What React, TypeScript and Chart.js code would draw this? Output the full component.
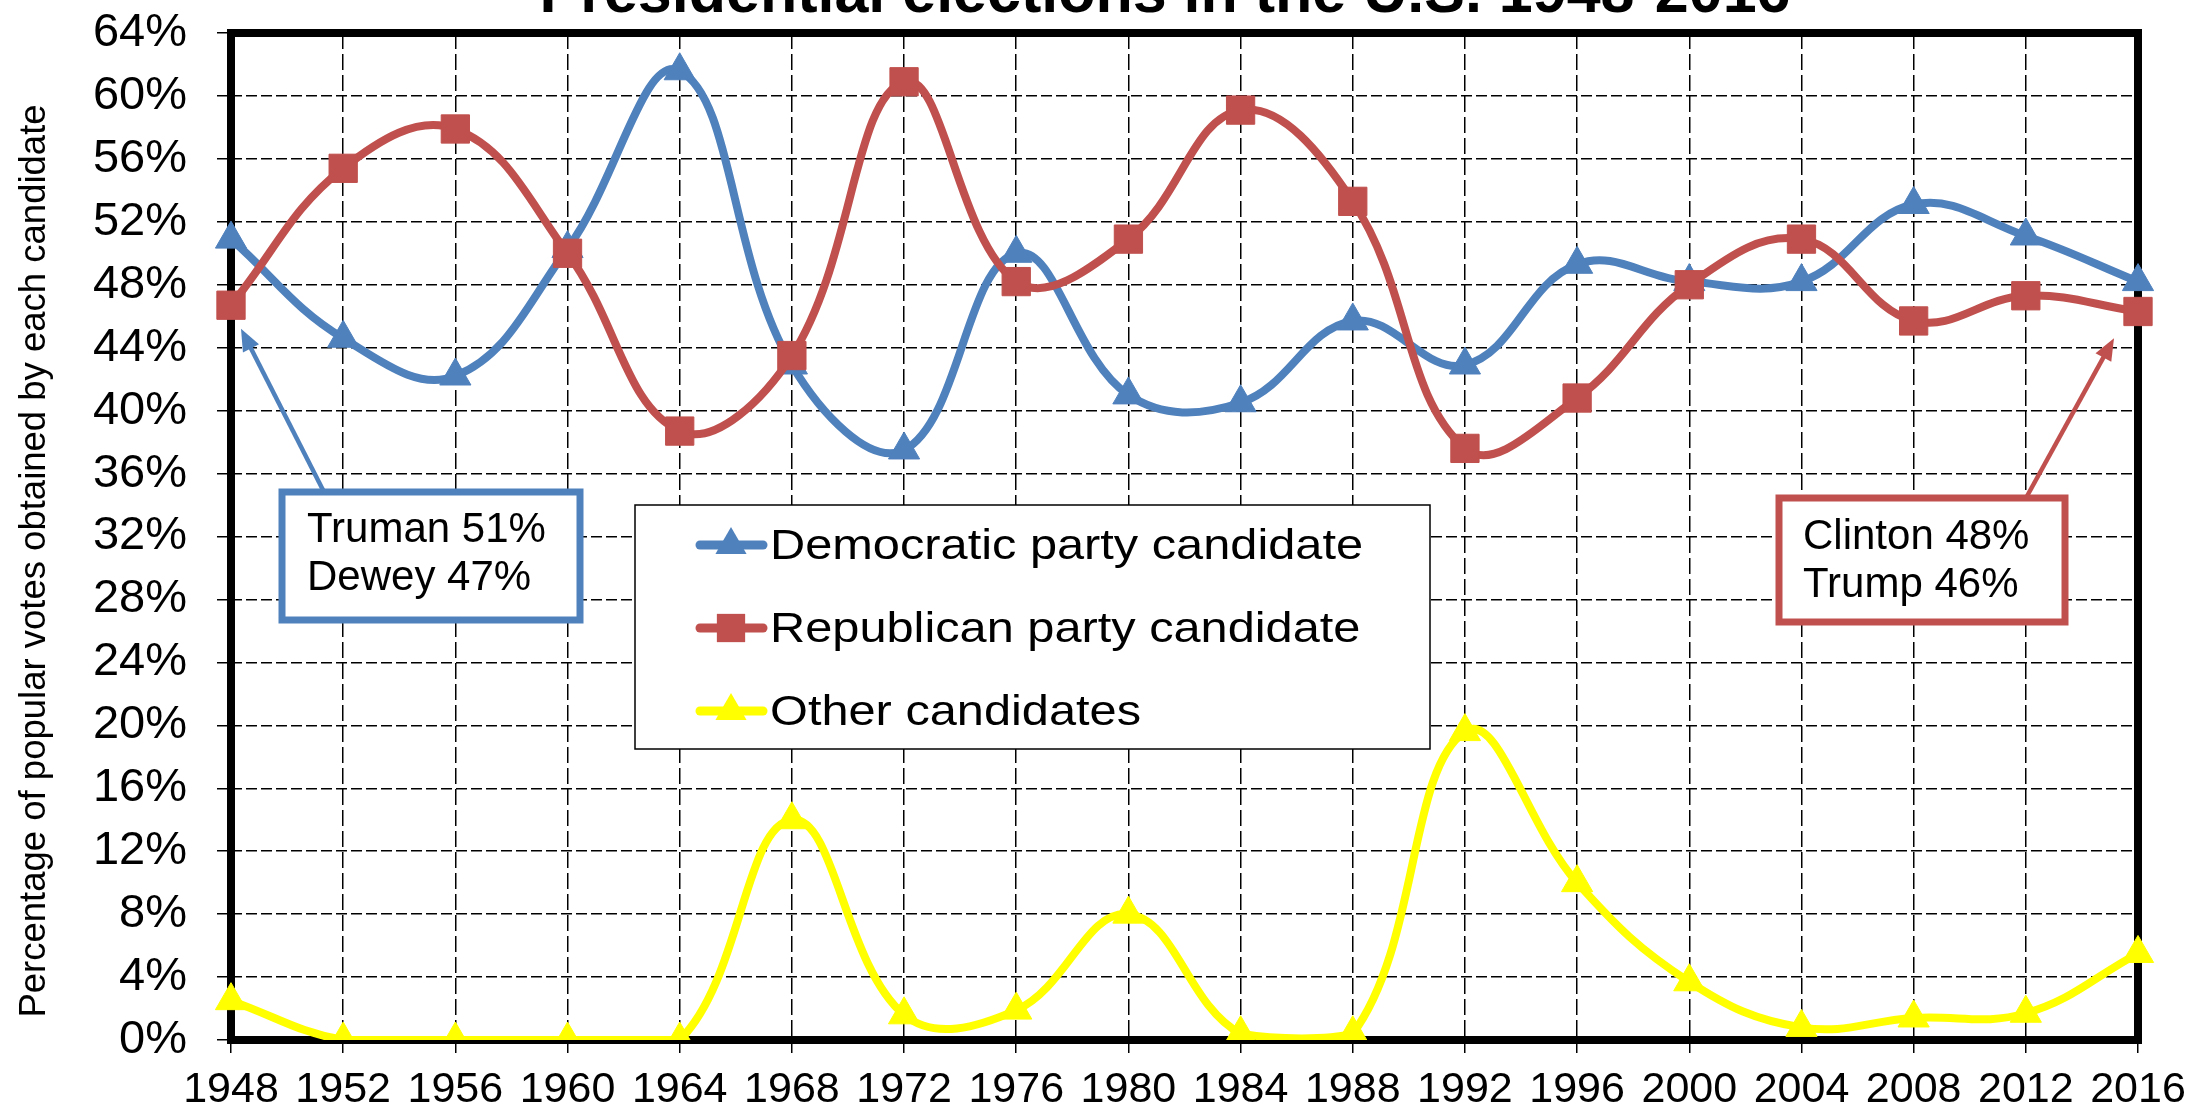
import React, { useEffect, useRef } from 'react';
import { Chart, registerables } from 'chart.js';

Chart.register(...registerables);

const YEARS = ['1948', '1952', '1956', '1960', '1964', '1968', '1972', '1976', '1980', '1984', '1988', '1992', '1996', '2000', '2004', '2008', '2012', '2016'];
const DEMOCRATIC = [50.9, 44.6, 42.2, 50.3, 61.6, 42.9, 37.5, 50.0, 41.0, 40.5, 45.7, 42.9, 49.3, 48.2, 48.2, 53.1, 51.1, 48.2];
const REPUBLICAN = [46.7, 55.4, 57.9, 50.0, 38.7, 43.5, 60.9, 48.2, 50.9, 59.1, 53.3, 37.6, 40.8, 48.0, 50.9, 45.7, 47.3, 46.3];
const OTHER = [2.5, 0, 0, 0, 0, 14.0, 1.6, 1.9, 8.0, 0.4, 0.4, 19.6, 10.0, 3.7, 0.8, 1.4, 1.7, 5.5];
const SERIES_NAMES = ['Democratic party candidate', 'Republican party candidate', 'Other candidates'];
const Y_TICKS_MIN = 0;
const Y_TICKS_MAX = 64;
const Y_STEP = 4;
const TITLE = 'Presidential elections in the U.S. 1948-2016';
const Y_TITLE = 'Percentage of popular votes obtained by each candidate';
const NOTE_LEFT = ['Truman 51%', 'Dewey 47%'];
const NOTE_RIGHT = ['Clinton 48%', 'Trump 46%'];

const BLUE = '#4F81BD';
const RED = '#C0504D';
const YELLOW = '#FFFF00';
const FONT = '"Liberation Sans", Arial, sans-serif';

const W = 2188;
const H = 1109;
const AREA = { left: 231, right: 2138, top: 33, bottom: 1040 };

function drawMarker(ctx: CanvasRenderingContext2D, style: string, x: number, y: number, r: number, color: string) {
  ctx.save();
  ctx.fillStyle = color;
  ctx.beginPath();
  if (style === 'rect') {
    const s = Math.SQRT1_2 * r;
    ctx.rect(x - s, y - s, 2 * s, 2 * s);
  } else {
    for (let i = 0; i < 3; i++) {
      const a = (i * 2 * Math.PI) / 3;
      const px = x + Math.sin(a) * r;
      const py = y - Math.cos(a) * r;
      if (i === 0) ctx.moveTo(px, py);
      else ctx.lineTo(px, py);
    }
    ctx.closePath();
  }
  ctx.fill();
  ctx.restore();
}

function drawArrow(ctx: CanvasRenderingContext2D, x1: number, y1: number, x2: number, y2: number, color: string) {
  const ang = Math.atan2(y2 - y1, x2 - x1);
  const head = 22;
  const hw = 9;
  ctx.save();
  ctx.strokeStyle = color;
  ctx.fillStyle = color;
  ctx.lineWidth = 4.5;
  ctx.beginPath();
  ctx.moveTo(x1, y1);
  ctx.lineTo(x2 - Math.cos(ang) * head * 0.8, y2 - Math.sin(ang) * head * 0.8);
  ctx.stroke();
  ctx.beginPath();
  ctx.moveTo(x2, y2);
  ctx.lineTo(x2 - Math.cos(ang) * head - Math.sin(ang) * hw, y2 - Math.sin(ang) * head + Math.cos(ang) * hw);
  ctx.lineTo(x2 - Math.cos(ang) * head + Math.sin(ang) * hw, y2 - Math.sin(ang) * head - Math.cos(ang) * hw);
  ctx.closePath();
  ctx.fill();
  ctx.restore();
}

function drawNote(ctx: CanvasRenderingContext2D, x: number, y: number, w: number, h: number, color: string, lines: string[], tx: number, ys: number[]) {
  ctx.save();
  ctx.fillStyle = '#ffffff';
  ctx.fillRect(x, y, w, h);
  ctx.strokeStyle = color;
  ctx.lineWidth = 7;
  ctx.strokeRect(x, y, w, h);
  ctx.fillStyle = '#000000';
  ctx.font = `42px ${FONT}`;
  ctx.textAlign = 'left';
  ctx.textBaseline = 'middle';
  lines.forEach((t, i) => ctx.fillText(t, tx, ys[i]));
  ctx.restore();
}

const framePlugin = {
  id: 'frame',
  beforeDatasetsDraw(chart: any) {
    const { ctx, chartArea: a } = chart;
    ctx.save();
    ctx.strokeStyle = '#000000';
    ctx.lineWidth = 8;
    ctx.strokeRect(a.left, a.top, a.right - a.left, a.bottom - a.top);
    ctx.restore();
  },
};

const decorPlugin = {
  id: 'decor',
  afterDraw(chart: any) {
    const { ctx } = chart;
    const xs = chart.scales.x;
    const ys = chart.scales.y;
    // title
    ctx.save();
    ctx.fillStyle = '#000000';
    ctx.font = `bold 61px ${FONT}`;
    ctx.textAlign = 'center';
    ctx.textBaseline = 'alphabetic';
    ctx.fillText(TITLE, 1165, 12);
    // y title
    ctx.translate(35, 561);
    ctx.rotate(-Math.PI / 2);
    ctx.font = `36.5px ${FONT}`;
    ctx.textBaseline = 'middle';
    ctx.fillText(Y_TITLE, 0, 0);
    ctx.restore();

    // legend
    ctx.save();
    ctx.fillStyle = '#ffffff';
    ctx.fillRect(635, 505, 795, 244);
    ctx.strokeStyle = '#000000';
    ctx.lineWidth = 1.5;
    ctx.strokeRect(635, 505, 795, 244);
    const rowsY = [545, 628, 711];
    chart.data.datasets.forEach((ds: any, i: number) => {
      const y = rowsY[i];
      ctx.strokeStyle = ds.borderColor;
      ctx.lineWidth = 9;
      ctx.lineCap = 'round';
      ctx.beginPath();
      ctx.moveTo(700, y);
      ctx.lineTo(763, y);
      ctx.stroke();
      drawMarker(ctx, ds.pointStyle, 731, y, ds.pointRadius, ds.borderColor);
      ctx.save();
      ctx.fillStyle = '#000000';
      ctx.font = `42px ${FONT}`;
      ctx.textAlign = 'left';
      ctx.textBaseline = 'middle';
      ctx.translate(770, y + 2);
      ctx.scale(1.16, 1);
      ctx.fillText(ds.label, 0, 0);
      ctx.restore();
    });
    ctx.restore();

    // annotations
    drawArrow(ctx, 324, 492, xs.getPixelForValue(0) + 10, ys.getPixelForValue(45.2), BLUE);
    drawNote(ctx, 282, 492, 298, 128, BLUE, NOTE_LEFT, 307, [530, 578]);
    drawArrow(ctx, 2026, 498, xs.getPixelForValue(YEARS.length - 1) - 24, ys.getPixelForValue(44.6), RED);
    drawNote(ctx, 1779, 498, 286, 124, RED, NOTE_RIGHT, 1803, [537, 585]);
  },
};

export default function App() {
  const ref = useRef<HTMLCanvasElement>(null);
  useEffect(() => {
    const canvas = ref.current!;
    const mk = (label: string, data: number[], color: string, style: string, r: number, order: number) => ({
      label,
      data,
      borderColor: color,
      backgroundColor: color,
      pointBackgroundColor: color,
      pointBorderColor: color,
      pointBorderWidth: 1,
      pointStyle: style,
      pointRadius: r,
      borderWidth: 8,
      tension: 0.4,
      fill: false,
      order,
    });
    const chart = new Chart(canvas, {
      type: 'line',
      data: {
        labels: YEARS,
        datasets: [
          mk(SERIES_NAMES[0], DEMOCRATIC, BLUE, 'triangle', 18, 2),
          mk(SERIES_NAMES[1], REPUBLICAN, RED, 'rect', 20, 1),
          mk(SERIES_NAMES[2], OTHER, YELLOW, 'triangle', 18, 0),
        ] as any,
      },
      options: {
        responsive: false,
        animation: false,
        devicePixelRatio: 1,
        layout: { padding: { left: 0, right: W - AREA.right, top: AREA.top, bottom: 0 } },
        plugins: { legend: { display: false }, tooltip: { enabled: false }, title: { display: false } },
        scales: {
          x: {
            type: 'category',
            offset: false,
            grid: { color: '#000000', lineWidth: 1.5, drawTicks: true, tickLength: 13, tickColor: '#000000', tickWidth: 1.5, tickBorderDash: [] },
            border: { display: false, dash: [16, 5] },
            ticks: { color: '#000000', font: { family: FONT, size: 43 }, padding: 11, autoSkip: false, maxRotation: 0 },
            afterFit: (s: any) => { s.height = H - AREA.bottom; s.paddingLeft = 0; s.paddingRight = 0; },
          },
          y: {
            min: Y_TICKS_MIN,
            max: Y_TICKS_MAX,
            grid: { color: '#000000', lineWidth: 1.5, drawTicks: true, tickLength: 14, tickColor: '#000000', tickWidth: 1.5, tickBorderDash: [] },
            border: { display: false, dash: [11, 4] },
            ticks: { stepSize: Y_STEP, color: '#000000', font: { family: FONT, size: 47 }, padding: 30, callback: (v: any) => v + '%' },
            afterFit: (s: any) => { s.width = AREA.left; s.paddingTop = 0; s.paddingBottom = 0; },
          },
        },
      } as any,
      plugins: [framePlugin, decorPlugin],
    });
    return () => chart.destroy();
  }, []);
  return (
    <div style={{ position: 'fixed', left: 0, top: 0, width: W, height: H, background: '#ffffff' }}>
      <canvas ref={ref} width={W} height={H} style={{ display: 'block', width: W, height: H }} />
    </div>
  );
}
